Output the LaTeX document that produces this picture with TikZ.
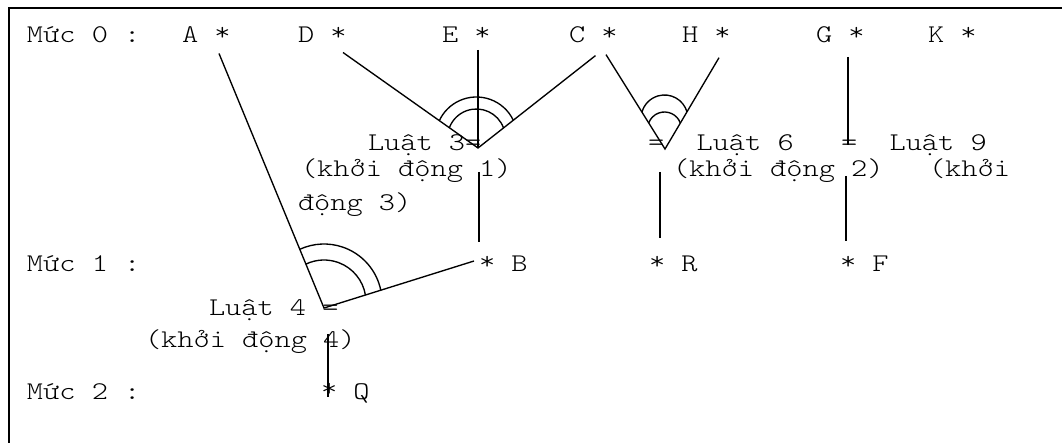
\documentclass[tikz,border=0pt]{standalone}
\usepackage{fontspec}
\setmonofont{Latin Modern Mono Light}[FakeStretch=1.21]
\usetikzlibrary{calc}
\newcommand{\rstar}{\raisebox{0.08em}{*}}

\begin{document}
\begin{tikzpicture}[
    x=1pt, y=1pt,
    txt/.style={anchor=base west, inner sep=0pt, outer sep=0pt,
      font=\ttfamily\fontsize{25.5}{25.5}\selectfont, text=black},
    link/.style={draw=black, line width=1.35pt},
    andarc/.style={draw=black, line width=1.35pt},
    frameline/.style={draw=black, line width=2pt}
  ]
  \useasboundingbox (0,0) rectangle (1062,-443);

  % ============ Frame (top and left edge only) ============
  \coordinate (frtr) at (1062,-8.5);
  \coordinate (frtl) at (8.5,-8.5);
  \coordinate (frbl) at (8.5,-443);
  \draw[frameline] (frtr) -- (frtl) -- (frbl);

  % ============ Level 0 (y = -43) ============
  \node[txt] (lvl0) at ( 27,-43) {Mức 0 :};
  \node[txt] (a)    at (182,-43) {A \rstar};
  \node[txt] (d)    at (298,-43) {D \rstar};
  \node[txt] (e)    at (442,-43) {E \rstar};
  \node[txt] (c)    at (569,-43) {C \rstar};
  \node[txt] (h)    at (682,-43) {H \rstar};
  \node[txt] (g)    at (816,-43) {G \rstar};
  \node[txt] (k)    at (928,-43) {K \rstar};

  % ============ Rules 3, 6, 9 with start order ============
  \node[txt] (rule3) at (368,-151) {Luật 3=};
  \node[txt] (rule6) at (648,-151) {=\ \ Luật 6};
  \node[txt] (rule9) at (841,-151) {=\ \ Luật 9};
  \node[txt] (start1)  at (301,-177) {(khởi động 1)};
  \node[txt] (start2)  at (673,-177) {(khởi động 2)};
  \node[txt] (start3a) at (929,-177) {(khởi};
  \node[txt] (start3b) at (298,-211) {động 3)};

  % ============ Level 1 (y = -272) ============
  \node[txt] (lvl1) at ( 27,-272) {Mức 1 :};
  \node[txt] (b)    at (479,-272) {\rstar{} B};
  \node[txt] (r)    at (649,-272) {\rstar{} R};
  \node[txt] (f)    at (840,-272) {\rstar{} F};

  % ============ Rule 4 ============
  \node[txt] (rule4)  at (209,-316) {Luật 4 =};
  \node[txt] (start4) at (145,-347) {(khởi động 4)};

  % ============ Level 2 (y = -399) ============
  \node[txt] (lvl2) at ( 27,-399) {Mức 2 :};
  \node[txt] (q)    at (321,-399) {\rstar{} Q};

  % ============ Line ends ============
  \coordinate (v3) at (478,-148);   % rule 3 join
  \coordinate (v4) at (324,-308);   % rule 4 join
  \coordinate (v6) at (665,-149);   % rule 6 join
  \coordinate (atop)  at (219,-53.5);
  \coordinate (dtop)  at (343,-52.5);
  \coordinate (etop)  at (478,-50);
  \coordinate (ctopl) at (595.5,-55.6);
  \coordinate (ctopr) at (606,-54.6);
  \coordinate (htop)  at (719,-57.7);
  \coordinate (gtop)  at (848,-57);
  \coordinate (gbot)  at (848,-145);
  \coordinate (bleft) at (474,-261);
  \coordinate (v3low) at (479,-172);  \coordinate (btop) at (479,-242);
  \coordinate (v6low) at (660,-172);  \coordinate (rtop) at (660,-238);
  \coordinate (glow)  at (846,-176);  \coordinate (ftop) at (846,-241);
  \coordinate (v4low) at (328,-334);  \coordinate (qtop) at (328,-397);

  % ============ Rule lines ============
  \draw[link] (dtop) -- (v3) -- (ctopl);
  \draw[link] (etop) -- (v3);
  \draw[link] (ctopr) -- (v6) -- (htop);
  \draw[link] (gtop) -- (gbot);
  \draw[link] (atop) -- (v4) -- (bleft);
  \draw[link] (v3low) -- (btop);
  \draw[link] (v6low) -- (rtop);
  \draw[link] (glow) -- (ftop);
  \draw[link] (v4low) -- (qtop);

  % ============ AND arcs (double) ============
  \coordinate (v3c)  at ($(v3)+(-1.6,10.1)$);
  \coordinate (v6co) at ($(v6)+(-0.5,30.6)$);
  \coordinate (v6ci) at ($(v6)+(-0.5,20.1)$);
  \coordinate (v4c)  at ($(v4)+(0,6)$);
  \draw[andarc] ([shift={(25:40.9)}]v3c) arc[start angle=25, end angle=155, radius=40.9];
  \draw[andarc] ([shift={(20:28.9)}]v3c) arc[start angle=20, end angle=160, radius=28.9];
  \draw[andarc] ([shift={(16:23.4)}]v6co) arc[start angle=16, end angle=164, radius=23.4];
  \draw[andarc] ([shift={(20:16.9)}]v6ci) arc[start angle=20, end angle=160, radius=16.9];
  \draw[andarc] ([shift={(11.4:58)}]v4c) arc[start angle=11.4, end angle=114.4, radius=58];
  \draw[andarc] ([shift={(9.3:42)}]v4c) arc[start angle=9.3, end angle=115.3, radius=42];

\end{tikzpicture}
\end{document}
